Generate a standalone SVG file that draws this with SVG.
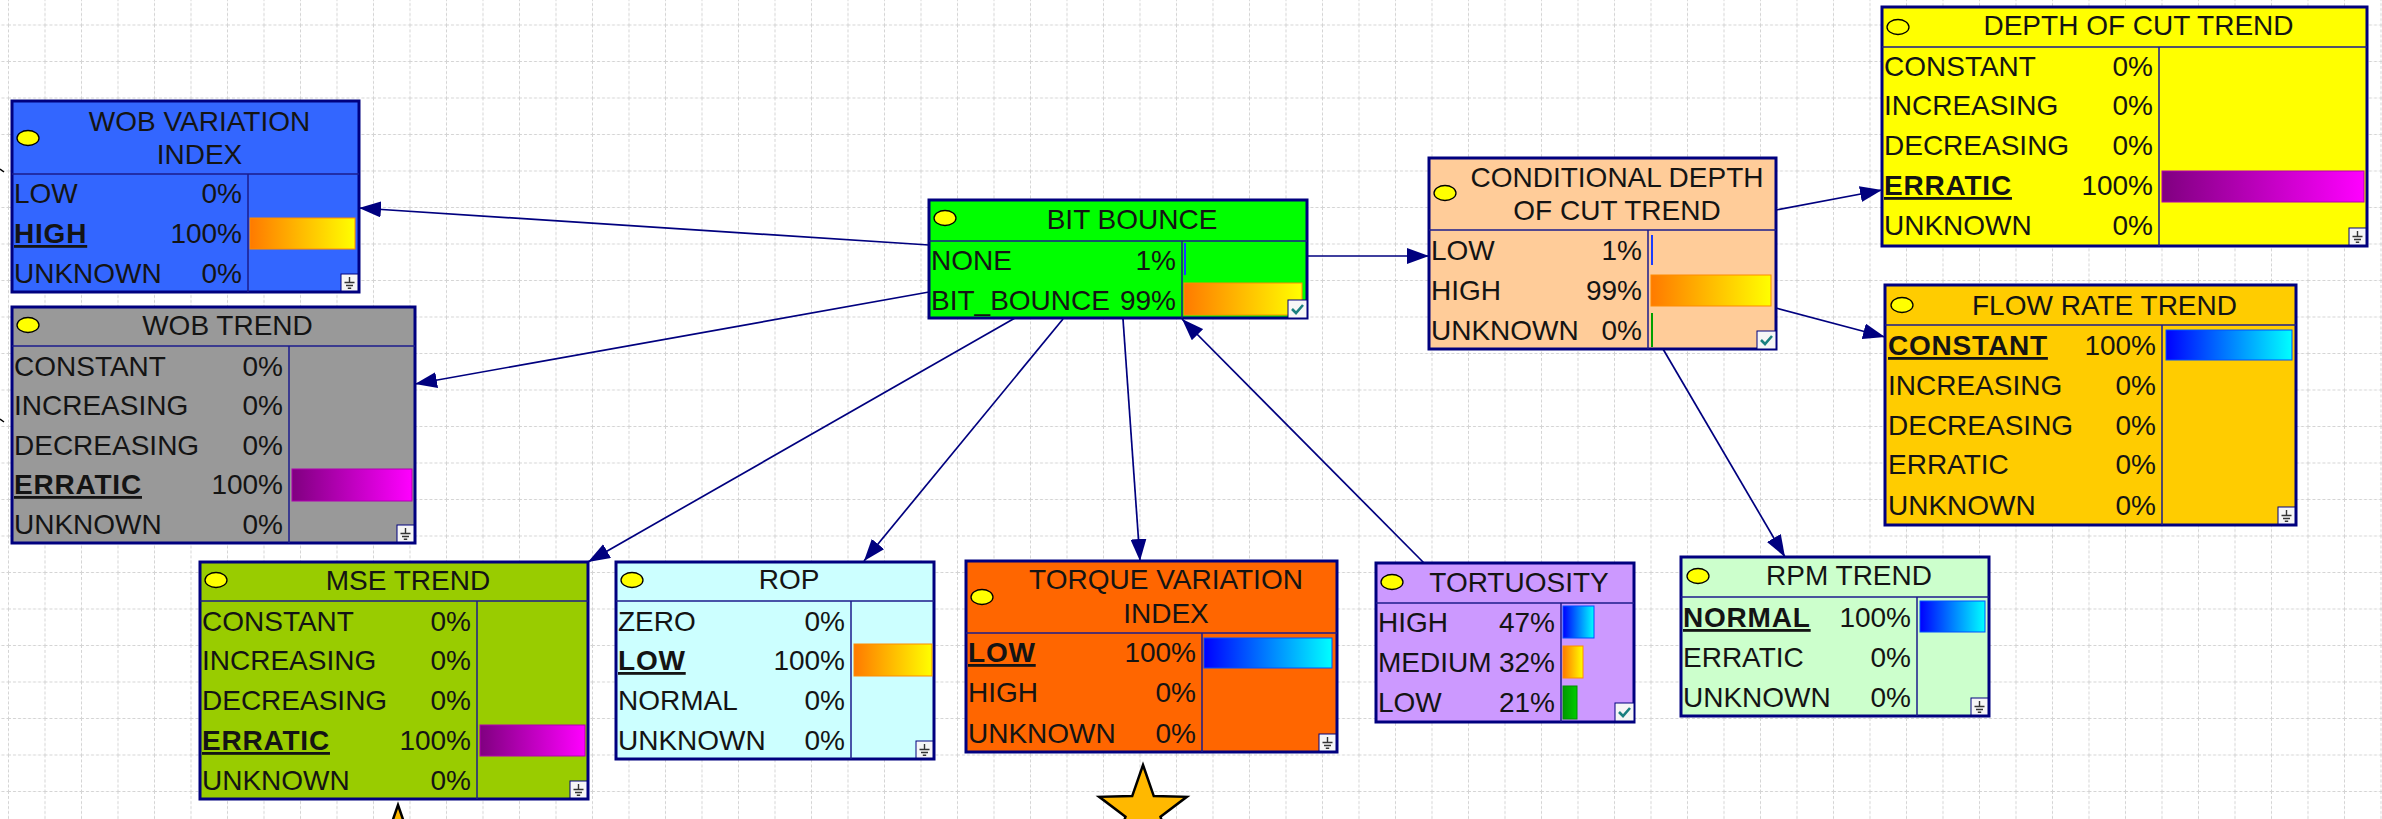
<svg xmlns="http://www.w3.org/2000/svg" width="2382" height="819" viewBox="0 0 2382 819">
<defs>
<style>
.box{stroke:#00007f;stroke-width:3}
.sep{stroke:#1c1c8c;stroke-width:1.5;fill:none}
.t{font-family:"Liberation Sans",Arial,sans-serif;font-size:28px;fill:#141414}
.b{font-weight:bold;text-decoration:underline;letter-spacing:0.8px}
.r{text-anchor:end}
.c{text-anchor:middle}
.dot{fill:#ffff00;stroke:#000;stroke-width:1.3}
.con{stroke:#00007f;stroke-width:1.7;fill:none;marker-end:url(#ah)}
.ico{fill:#f6f6f6;stroke:#00007f;stroke-width:1}
.gnd{stroke:#333;stroke-width:1.4;fill:none}
.chk{stroke:#1a8080;stroke-width:2.6;fill:none}
.oy{fill:url(#gOY);stroke:#ff8c00;stroke-width:1}
.pm{fill:url(#gPM);stroke:#b000b0;stroke-width:1}
.bc{fill:url(#gBC);stroke:#0050ff;stroke-width:1}
.gr{fill:url(#gGR);stroke:#009000;stroke-width:1}
</style>
<linearGradient id="gOY" x1="0" y1="0" x2="1" y2="0"><stop offset="0" stop-color="#ff7a00"/><stop offset="1" stop-color="#ffff00"/></linearGradient>
<linearGradient id="gPM" x1="0" y1="0" x2="1" y2="0"><stop offset="0" stop-color="#800080"/><stop offset="1" stop-color="#ff00ff"/></linearGradient>
<linearGradient id="gBC" x1="0" y1="0" x2="1" y2="0"><stop offset="0" stop-color="#0000ff"/><stop offset="1" stop-color="#00ffff"/></linearGradient>
<linearGradient id="gGR" x1="0" y1="0" x2="1" y2="0"><stop offset="0" stop-color="#009a00"/><stop offset="1" stop-color="#00cc00"/></linearGradient>
<marker id="ah" markerUnits="userSpaceOnUse" viewBox="0 0 22 16" refX="22" refY="8" markerWidth="22" markerHeight="16" orient="auto">
<path d="M0,0 L22,8 L0,16 z" fill="#00007f"/>
</marker>
<pattern id="grid" patternUnits="userSpaceOnUse" x="8" y="24.5" width="36.5" height="36.5">
<path d="M0,0.5 H36.5 M0.5,0 V36.5" stroke="#d4d4d4" stroke-width="1" stroke-dasharray="3 2" fill="none"/>
</pattern>
<g id="ground"><rect class="ico" x="0" y="0" width="17" height="17"/><path class="gnd" d="M8.5,3 V8 M3.5,8.5 H13.5 M5,11.5 H12 M6.8,14.3 H10.2"/></g>
<g id="check"><rect class="ico" x="0" y="0" width="19" height="18"/><path class="chk" d="M4,9 L8,13 L15,5"/></g>
</defs>
<rect width="2382" height="819" fill="#ffffff"/>
<rect width="2382" height="819" fill="url(#grid)"/>

<g id="connectors">
<path class="con" d="M929,245 L359,208"/>
<path class="con" d="M929,292 L415,384"/>
<path class="con" d="M1015,318 L588,562"/>
<path class="con" d="M1063,319 L864,561"/>
<path class="con" d="M1123,319 L1140,561"/>
<path class="con" d="M1424,563 L1182,319"/>
<path class="con" d="M1307,256 L1429,256"/>
<path class="con" d="M1776,210 L1882,190"/>
<path class="con" d="M1776,308 L1885,337"/>
<path class="con" d="M1663,349 L1785,557"/>
<path d="M0,169 L4,172 M0,419 L4,422" stroke="#000" stroke-width="1.5" fill="none"/>
</g>

<g id="wob_variation_index">
<rect class="box" x="12" y="101" width="347" height="191" fill="#3366ff"/>
<path class="sep" d="M12,174 H359 M248,174 V292"/>
<ellipse class="dot" cx="28" cy="138" rx="11" ry="7.5"/>
<text class="t c" x="199.5" y="131">WOB VARIATION</text>
<text class="t c" x="199.5" y="164">INDEX</text>
<text class="t" x="14" y="203">LOW</text><text class="t r" x="242" y="203">0%</text>
<text class="t b" x="14" y="243">HIGH</text><text class="t r" x="242" y="243">100%</text>
<text class="t" x="14" y="283">UNKNOWN</text><text class="t r" x="242" y="283">0%</text>
<rect class="oy" x="250" y="218" width="105" height="31"/>
<use href="#ground" x="341" y="274"/>
</g>

<g id="wob_trend">
<rect class="box" x="12" y="307" width="403" height="236" fill="#999999"/>
<path class="sep" d="M12,346 H415 M289,346 V543"/>
<ellipse class="dot" cx="28" cy="325" rx="11" ry="7.5"/>
<text class="t c" x="227.5" y="335">WOB TREND</text>
<text class="t" x="14" y="376">CONSTANT</text><text class="t r" x="283" y="376">0%</text>
<text class="t" x="14" y="415">INCREASING</text><text class="t r" x="283" y="415">0%</text>
<text class="t" x="14" y="455">DECREASING</text><text class="t r" x="283" y="455">0%</text>
<text class="t b" x="14" y="494">ERRATIC</text><text class="t r" x="283" y="494">100%</text>
<text class="t" x="14" y="534">UNKNOWN</text><text class="t r" x="283" y="534">0%</text>
<rect class="pm" x="292" y="469" width="120" height="32"/>
<use href="#ground" x="397" y="525"/>
</g>

<g id="bit_bounce">
<rect class="box" x="929" y="200" width="378" height="118" fill="#00ff00"/>
<path class="sep" d="M929,241 H1307 M1182,241 V318"/>
<ellipse class="dot" cx="945" cy="218" rx="11" ry="7.5"/>
<text class="t c" x="1132" y="229">BIT BOUNCE</text>
<text class="t" x="931" y="270">NONE</text><text class="t r" x="1176" y="270">1%</text>
<text class="t" x="931" y="310">BIT_BOUNCE</text><text class="t r" x="1176" y="310">99%</text>
<rect x="1184" y="243" width="2" height="32" fill="#1a3cff"/>
<rect class="oy" x="1184" y="283" width="118" height="32"/>
<use href="#check" x="1288" y="300"/>
</g>

<g id="conditional_depth_of_cut_trend">
<rect class="box" x="1429" y="158" width="347" height="191" fill="#ffcc99"/>
<path class="sep" d="M1429,230 H1776 M1648,230 V349"/>
<ellipse class="dot" cx="1445" cy="193" rx="11" ry="7.5"/>
<text class="t c" x="1617" y="187">CONDITIONAL DEPTH</text>
<text class="t c" x="1617" y="220">OF CUT TREND</text>
<text class="t" x="1431" y="260">LOW</text><text class="t r" x="1642" y="260">1%</text>
<text class="t" x="1431" y="300">HIGH</text><text class="t r" x="1642" y="300">99%</text>
<text class="t" x="1431" y="340">UNKNOWN</text><text class="t r" x="1642" y="340">0%</text>
<rect x="1651" y="235" width="2" height="30" fill="#1a3cff"/>
<rect class="oy" x="1651" y="275" width="120" height="31"/>
<rect x="1651" y="313" width="2" height="34" fill="#00a000"/>
<use href="#check" x="1757" y="331"/>
</g>

<g id="depth_of_cut_trend">
<rect class="box" x="1882" y="7" width="485" height="239" fill="#ffff00"/>
<path class="sep" d="M1882,47 H2367 M2159,47 V246"/>
<ellipse class="dot" cx="1898" cy="27" rx="11" ry="7.5"/>
<text class="t c" x="2138.5" y="35">DEPTH OF CUT TREND</text>
<text class="t" x="1884" y="76">CONSTANT</text><text class="t r" x="2153" y="76">0%</text>
<text class="t" x="1884" y="115">INCREASING</text><text class="t r" x="2153" y="115">0%</text>
<text class="t" x="1884" y="155">DECREASING</text><text class="t r" x="2153" y="155">0%</text>
<text class="t b" x="1884" y="195">ERRATIC</text><text class="t r" x="2153" y="195">100%</text>
<text class="t" x="1884" y="235">UNKNOWN</text><text class="t r" x="2153" y="235">0%</text>
<rect class="pm" x="2162" y="171" width="202" height="31"/>
<use href="#ground" x="2349" y="228"/>
</g>

<g id="flow_rate_trend">
<rect class="box" x="1885" y="285" width="411" height="240" fill="#ffcc00"/>
<path class="sep" d="M1885,325 H2296 M2162,325 V525"/>
<ellipse class="dot" cx="1902" cy="305" rx="11" ry="7.5"/>
<text class="t c" x="2104.5" y="315">FLOW RATE TREND</text>
<text class="t b" x="1888" y="355">CONSTANT</text><text class="t r" x="2156" y="355">100%</text>
<text class="t" x="1888" y="395">INCREASING</text><text class="t r" x="2156" y="395">0%</text>
<text class="t" x="1888" y="435">DECREASING</text><text class="t r" x="2156" y="435">0%</text>
<text class="t" x="1888" y="474">ERRATIC</text><text class="t r" x="2156" y="474">0%</text>
<text class="t" x="1888" y="515">UNKNOWN</text><text class="t r" x="2156" y="515">0%</text>
<rect class="bc" x="2166" y="330" width="126" height="30"/>
<use href="#ground" x="2278" y="507"/>
</g>

<g id="mse_trend">
<rect class="box" x="200" y="562" width="388" height="237" fill="#99cc00"/>
<path class="sep" d="M200,601 H588 M477,601 V799"/>
<ellipse class="dot" cx="216" cy="580" rx="11" ry="7.5"/>
<text class="t c" x="408" y="590">MSE TREND</text>
<text class="t" x="202" y="631">CONSTANT</text><text class="t r" x="471" y="631">0%</text>
<text class="t" x="202" y="670">INCREASING</text><text class="t r" x="471" y="670">0%</text>
<text class="t" x="202" y="710">DECREASING</text><text class="t r" x="471" y="710">0%</text>
<text class="t b" x="202" y="750">ERRATIC</text><text class="t r" x="471" y="750">100%</text>
<text class="t" x="202" y="790">UNKNOWN</text><text class="t r" x="471" y="790">0%</text>
<rect class="pm" x="480" y="725" width="105" height="31"/>
<use href="#ground" x="570" y="781"/>
</g>

<g id="rop">
<rect class="box" x="616" y="562" width="318" height="197" fill="#ccffff"/>
<path class="sep" d="M616,601 H934 M851,601 V759"/>
<ellipse class="dot" cx="632" cy="580" rx="11" ry="7.5"/>
<text class="t c" x="789" y="589">ROP</text>
<text class="t" x="618" y="631">ZERO</text><text class="t r" x="845" y="631">0%</text>
<text class="t b" x="618" y="670">LOW</text><text class="t r" x="845" y="670">100%</text>
<text class="t" x="618" y="710">NORMAL</text><text class="t r" x="845" y="710">0%</text>
<text class="t" x="618" y="750">UNKNOWN</text><text class="t r" x="845" y="750">0%</text>
<rect class="oy" x="854" y="644" width="78" height="32"/>
<use href="#ground" x="916" y="741"/>
</g>

<g id="torque_variation_index">
<rect class="box" x="966" y="561" width="371" height="191" fill="#ff6600"/>
<path class="sep" d="M966,633 H1337 M1202,633 V752"/>
<ellipse class="dot" cx="982" cy="597" rx="11" ry="7.5"/>
<text class="t c" x="1166" y="589">TORQUE VARIATION</text>
<text class="t c" x="1166" y="623">INDEX</text>
<text class="t b" x="968" y="662">LOW</text><text class="t r" x="1196" y="662">100%</text>
<text class="t" x="968" y="702">HIGH</text><text class="t r" x="1196" y="702">0%</text>
<text class="t" x="968" y="743">UNKNOWN</text><text class="t r" x="1196" y="743">0%</text>
<rect class="bc" x="1204" y="638" width="128" height="30"/>
<use href="#ground" x="1319" y="734"/>
</g>

<g id="tortuosity">
<rect class="box" x="1376" y="563" width="258" height="159" fill="#cc99ff"/>
<path class="sep" d="M1376,603 H1634 M1561,603 V722"/>
<ellipse class="dot" cx="1392" cy="582" rx="11" ry="7.5"/>
<text class="t c" x="1519" y="592">TORTUOSITY</text>
<text class="t" x="1378" y="632">HIGH</text><text class="t r" x="1555" y="632">47%</text>
<text class="t" x="1378" y="672">MEDIUM</text><text class="t r" x="1555" y="672">32%</text>
<text class="t" x="1378" y="712">LOW</text><text class="t r" x="1555" y="712">21%</text>
<rect class="bc" x="1563" y="606" width="31" height="32"/>
<rect class="oy" x="1563" y="646" width="20" height="32"/>
<rect class="gr" x="1563" y="686" width="14" height="33"/>
<use href="#check" x="1615" y="703"/>
</g>

<g id="rpm_trend">
<rect class="box" x="1681" y="557" width="308" height="159" fill="#ccffcc"/>
<path class="sep" d="M1681,597 H1989 M1917,597 V716"/>
<ellipse class="dot" cx="1698" cy="576" rx="11" ry="7.5"/>
<text class="t c" x="1849" y="585">RPM TREND</text>
<text class="t b" x="1683" y="627">NORMAL</text><text class="t r" x="1911" y="627">100%</text>
<text class="t" x="1683" y="667">ERRATIC</text><text class="t r" x="1911" y="667">0%</text>
<text class="t" x="1683" y="707">UNKNOWN</text><text class="t r" x="1911" y="707">0%</text>
<rect class="bc" x="1920" y="601" width="65" height="31"/>
<use href="#ground" x="1971" y="698"/>
</g>

<g id="stars">
<polygon points="1143,765 1153.8,796.1 1186.8,796.8 1160.5,816.7 1170,848.2 1143,829.4 1116,848.2 1125.5,816.7 1099.2,796.8 1132.2,796.1" fill="#ffb800" stroke="#000" stroke-width="2.5"/>
<polygon points="398,805 408.8,836.1 441.8,836.8 415.5,856.7 425,888.2 398,869.4 371,888.2 380.5,856.7 354.2,836.8 387.2,836.1" fill="#ffb800" stroke="#000" stroke-width="2.5"/>
</g>
</svg>
